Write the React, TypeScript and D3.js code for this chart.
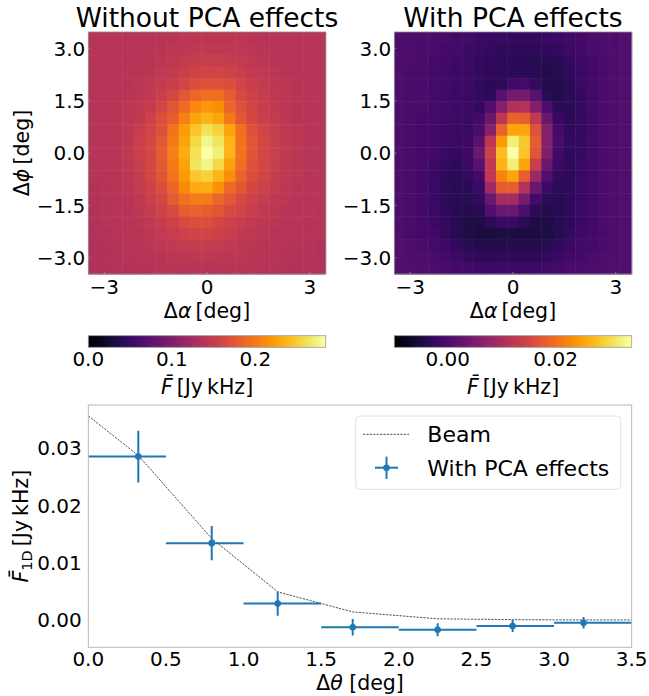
import React from "react";
import * as d3 from "d3";

const W = 649;
const H = 696;
const FONT = "DejaVu Sans, Verdana, sans-serif";

// ---------- heatmap data (colour-scale level, 0 = bottom of colourbar, 1 = top) ----------
const nCells = 21;
const cellDeg = 0.33;
const mapExtent = 3.465;
const leftRange = [0.0, 0.2843];
const rightRange = [-0.0099, 0.0341];

const leftLevels = [
  [.49,.49,.49,.49,.49,.49,.49,.495,.50,.50,.50,.50,.50,.50,.495,.49,.49,.49,.49,.49,.49],
  [.485,.49,.49,.49,.49,.49,.495,.50,.505,.51,.51,.51,.51,.505,.50,.495,.49,.49,.49,.49,.49],
  [.485,.49,.49,.49,.49,.495,.50,.51,.52,.525,.53,.53,.525,.52,.51,.50,.495,.49,.49,.49,.49],
  [.485,.49,.49,.49,.495,.50,.51,.52,.54,.55,.555,.555,.55,.535,.52,.51,.50,.495,.49,.49,.49],
  [.485,.49,.49,.495,.50,.51,.52,.535,.56,.59,.60,.60,.59,.56,.535,.52,.505,.50,.49,.49,.49],
  [.485,.49,.49,.495,.50,.515,.54,.57,.62,.66,.68,.68,.64,.58,.55,.53,.51,.50,.495,.49,.49],
  [.485,.49,.49,.50,.51,.525,.56,.61,.67,.74,.77,.75,.66,.60,.555,.53,.515,.50,.495,.49,.49],
  [.485,.49,.495,.50,.51,.55,.59,.64,.72,.80,.83,.80,.70,.62,.57,.54,.52,.505,.495,.49,.49],
  [.485,.49,.495,.50,.53,.56,.60,.69,.78,.86,.92,.89,.80,.68,.60,.56,.53,.51,.50,.49,.49],
  [.485,.49,.495,.505,.54,.57,.62,.71,.80,.90,.97,.93,.83,.69,.61,.57,.535,.51,.50,.49,.49],
  [.485,.49,.495,.51,.54,.57,.63,.72,.82,.92,1.0,.95,.83,.69,.61,.57,.54,.515,.50,.49,.49],
  [.485,.49,.495,.505,.535,.57,.62,.71,.80,.93,.97,.90,.79,.68,.60,.565,.535,.51,.50,.49,.49],
  [.485,.49,.495,.50,.53,.565,.61,.69,.78,.87,.89,.83,.75,.65,.59,.555,.53,.51,.50,.49,.49],
  [.48,.485,.49,.50,.52,.55,.59,.66,.74,.81,.82,.76,.67,.62,.57,.545,.52,.505,.495,.49,.49],
  [.48,.485,.49,.495,.51,.54,.57,.63,.68,.71,.71,.66,.62,.58,.55,.53,.51,.50,.49,.49,.49],
  [.48,.485,.49,.495,.505,.525,.55,.58,.64,.65,.64,.61,.58,.56,.53,.515,.505,.495,.49,.49,.485],
  [.48,.485,.49,.49,.50,.515,.53,.55,.58,.59,.59,.57,.55,.53,.515,.505,.50,.49,.49,.485,.485],
  [.48,.48,.485,.49,.495,.505,.515,.53,.55,.555,.555,.55,.53,.515,.505,.50,.49,.49,.485,.485,.485],
  [.475,.48,.485,.49,.49,.50,.505,.515,.52,.525,.525,.52,.515,.505,.50,.495,.49,.485,.485,.485,.48],
  [.475,.48,.48,.485,.49,.49,.495,.50,.505,.51,.51,.505,.50,.50,.495,.49,.485,.485,.48,.48,.48],
  [.475,.475,.48,.48,.485,.485,.49,.49,.495,.495,.495,.495,.495,.49,.49,.485,.485,.48,.48,.48,.48],
];

const rightLevels = [
  [.23,.23,.23,.22,.22,.21,.20,.19,.18,.18,.17,.17,.17,.18,.19,.20,.21,.22,.23,.23,.24],
  [.23,.23,.22,.22,.21,.20,.19,.18,.17,.16,.16,.16,.16,.16,.17,.19,.20,.22,.23,.23,.24],
  [.23,.23,.22,.21,.20,.19,.18,.17,.16,.15,.15,.15,.14,.14,.15,.17,.19,.21,.22,.23,.24],
  [.23,.22,.22,.21,.20,.19,.18,.17,.16,.15,.15,.15,.14,.13,.14,.16,.18,.20,.22,.23,.24],
  [.23,.22,.22,.21,.20,.19,.18,.17,.15,.16,.20,.21,.17,.13,.13,.15,.18,.20,.22,.23,.24],
  [.23,.22,.22,.21,.20,.19,.18,.17,.16,.25,.32,.33,.26,.15,.13,.15,.17,.20,.22,.23,.24],
  [.23,.22,.22,.21,.20,.19,.18,.17,.24,.36,.47,.48,.36,.23,.15,.15,.17,.20,.22,.23,.24],
  [.23,.22,.21,.21,.20,.19,.18,.20,.30,.50,.65,.64,.51,.30,.18,.15,.17,.20,.22,.23,.24],
  [.23,.22,.21,.20,.19,.18,.18,.22,.37,.65,.80,.80,.60,.36,.21,.16,.17,.20,.22,.23,.24],
  [.23,.22,.21,.20,.19,.18,.19,.26,.50,.78,.95,.87,.64,.36,.22,.17,.17,.20,.22,.23,.24],
  [.23,.22,.21,.20,.18,.17,.19,.30,.55,.85,1.0,.86,.61,.35,.20,.16,.17,.20,.22,.23,.24],
  [.23,.22,.21,.19,.17,.16,.19,.26,.51,.83,.95,.80,.53,.30,.19,.16,.18,.20,.22,.23,.24],
  [.23,.22,.20,.18,.16,.15,.17,.21,.51,.73,.80,.64,.42,.24,.17,.16,.18,.20,.22,.23,.24],
  [.23,.22,.20,.18,.16,.14,.15,.18,.43,.63,.64,.48,.30,.19,.15,.16,.18,.20,.22,.23,.24],
  [.23,.22,.20,.18,.16,.14,.14,.17,.30,.44,.44,.33,.21,.15,.14,.16,.18,.20,.22,.23,.24],
  [.23,.22,.20,.18,.16,.14,.13,.15,.24,.30,.30,.23,.15,.13,.14,.16,.18,.20,.22,.23,.24],
  [.23,.22,.21,.19,.17,.14,.12,.12,.15,.18,.18,.15,.12,.12,.14,.16,.18,.20,.22,.23,.24],
  [.23,.22,.21,.20,.17,.14,.12,.11,.11,.12,.12,.11,.11,.12,.14,.17,.19,.21,.22,.23,.24],
  [.24,.23,.22,.21,.19,.16,.14,.13,.13,.13,.13,.13,.13,.14,.16,.18,.20,.21,.22,.23,.24],
  [.24,.23,.23,.22,.21,.19,.17,.16,.16,.16,.16,.16,.16,.17,.18,.20,.21,.22,.23,.23,.24],
  [.24,.24,.23,.23,.22,.21,.20,.19,.19,.19,.19,.19,.19,.20,.21,.22,.22,.23,.23,.24,.24],
];

const toValues = (levels: number[][], range: number[]) =>
  levels.map((row) => row.map((t) => range[0] + t * (range[1] - range[0])));
const leftMap = toValues(leftLevels, leftRange);
const rightMap = toValues(rightLevels, rightRange);

const heatXTicks = [-3, 0, 3];
const heatYTicks = [-3.0, -1.5, 0.0, 1.5, 3.0];
const leftCbTicks = [0.0, 0.1, 0.2];
const rightCbTicks = [0.0, 0.02];

// ---------- radial profile ----------
const binLo = [0.0, 0.5, 1.0, 1.5, 2.0, 2.5, 3.0];
const binHi = [0.5, 1.0, 1.5, 2.0, 2.5, 3.0, 3.5];
const binCenter = [0.322, 0.795, 1.22, 1.703, 2.25, 2.733, 3.19];
const fluxPCA = [0.0285, 0.0134, 0.00285, -0.00128, -0.0017, -0.00105, -0.0005];
const fluxErr = [0.0045, 0.003, 0.0021, 0.00145, 0.00114, 0.00105, 0.001];
const beamTheta = [0.0, 0.322, 0.795, 1.22, 1.703, 2.25, 2.733, 3.19, 3.5];
const beamFlux = [0.0356, 0.0287, 0.0142, 0.0049, 0.0014, 0.0002, 0.00005, 0.0, 0.0];
const profXTicks = [0.0, 0.5, 1.0, 1.5, 2.0, 2.5, 3.0, 3.5];
const profYTicks = [0.0, 0.01, 0.02, 0.03];

const BLUE = "#1f77b4";
const TICK_FS = 20;

function Heatmap(props: {
  x0: number; x1: number; y0: number; y1: number;
  data: number[][]; range: number[]; title: string; yLabel: boolean; id: string;
}) {
  const { x0, x1, y0, y1, data, range, title, yLabel } = props;
  const xs = d3.scaleLinear().domain([-mapExtent, mapExtent]).range([x0, x1]);
  const ys = d3.scaleLinear().domain([-mapExtent, mapExtent]).range([y1, y0]);
  const color = d3.scaleSequential(d3.interpolateInferno).domain(range as [number, number]);
  const half = (nCells - 1) / 2;
  const fmtY = d3.format(".1f");
  const fmtX = d3.format("d");
  const cx = (x0 + x1) / 2;
  return (
    <g>
      {data.map((row, i) =>
        row.map((v, j) => {
          const cxDeg = (j - half) * cellDeg;
          const cyDeg = (half - i) * cellDeg;
          const rx = xs(cxDeg - cellDeg / 2);
          const rw = xs(cxDeg + cellDeg / 2) - rx;
          const ry = ys(cyDeg + cellDeg / 2);
          const rh = ys(cyDeg - cellDeg / 2) - ry;
          return (
            <rect key={`${i}-${j}`} x={rx} y={ry} width={rw + 0.5} height={rh + 0.5} fill={color(v)} />
          );
        })
      )}
      <rect x={x0} y={y0} width={x1 - x0} height={y1 - y0} fill="none" stroke="#8c8c8c" strokeWidth={0.8} />
      {heatYTicks.map((t) => (
        <g key={"y" + t}>
          <line x1={x0} x2={x0 + 2} y1={ys(t)} y2={ys(t)} stroke="#999" strokeWidth={0.8} />
          <text x={x0 - 3} y={ys(t) + 7.3} fontSize={TICK_FS} textAnchor="end" fill="#000">{fmtY(t)}</text>
        </g>
      ))}
      {heatXTicks.map((t) => (
        <g key={"x" + t}>
          <line x1={xs(t)} x2={xs(t)} y1={y1} y2={y1 - 2} stroke="#999" strokeWidth={0.8} />
          <text x={xs(t)} y={294} fontSize={TICK_FS} textAnchor="middle" fill="#000">{fmtX(t)}</text>
        </g>
      ))}
      <text x={cx} y={27} fontSize={26.5} textAnchor="middle" fill="#000">{title}</text>
      <text x={cx} y={318} fontSize={20.5} textAnchor="middle" fill="#000">
        Δ<tspan fontStyle="italic">α</tspan>{"\u2009"}[deg]
      </text>
      {yLabel && (
        <text transform={`translate(29,${(y0 + y1) / 2}) rotate(-90)`} fontSize={20.5} textAnchor="middle" fill="#000">
          Δ<tspan fontStyle="italic">ϕ</tspan>{"\u2009"}[deg]
        </text>
      )}
    </g>
  );
}

function Colorbar(props: { x0: number; x1: number; range: number[]; ticks: number[]; fmt: string; id: string }) {
  const { x0, x1, range, ticks, fmt, id } = props;
  const y0 = 335.7;
  const h = 11.6;
  const xs = d3.scaleLinear().domain(range).range([x0, x1]);
  const stops = d3.range(0, 1.0001, 0.05);
  const f = d3.format(fmt);
  return (
    <g>
      <defs>
        <linearGradient id={id} x1="0" x2="1" y1="0" y2="0">
          {stops.map((s) => (
            <stop key={s} offset={s} stopColor={d3.interpolateInferno(s)} />
          ))}
        </linearGradient>
      </defs>
      <rect x={x0} y={y0} width={x1 - x0} height={h} fill={`url(#${id})`} stroke="#999" strokeWidth={0.8} />
      {ticks.map((t) => (
        <text key={t} x={xs(t)} y={366} fontSize={TICK_FS} textAnchor="middle" fill="#000">{f(t)}</text>
      ))}
      <text x={(x0 + x1) / 2} y={394} fontSize={20.5} textAnchor="middle" fill="#000">
        <tspan fontStyle="italic">{"F\u0304"}</tspan>{"\u2009"}[Jy{"\u2009"}kHz]
      </text>
    </g>
  );
}

function Profile() {
  const x0 = 88.3, x1 = 631.7, y0 = 405, y1 = 647.3;
  const xs = d3.scaleLinear().domain([0, 3.5]).range([x0, x1]);
  const ys = d3.scaleLinear().domain([-0.00477, 0.0375]).range([y1, y0]);
  const fx = d3.format(".1f");
  const fy = d3.format(".2f");
  const beamLine = d3
    .line<number>()
    .x((_, i) => xs(beamTheta[i]))
    .y((d) => ys(d));
  return (
    <g>
      <defs>
        <clipPath id="profclip">
          <rect x={x0} y={y0} width={x1 - x0} height={y1 - y0} />
        </clipPath>
      </defs>
      <g clipPath="url(#profclip)">
        <path d={beamLine(beamFlux) || ""} fill="none" stroke="#222" strokeWidth={0.8} strokeDasharray="2.2,1.2" />
        {binCenter.map((c, i) => (
          <g key={i}>
            <line x1={xs(binLo[i])} x2={xs(binHi[i])} y1={ys(fluxPCA[i])} y2={ys(fluxPCA[i])} stroke={BLUE} strokeWidth={2} />
            <line x1={xs(c)} x2={xs(c)} y1={ys(fluxPCA[i] - fluxErr[i])} y2={ys(fluxPCA[i] + fluxErr[i])} stroke={BLUE} strokeWidth={2} />
            <circle cx={xs(c)} cy={ys(fluxPCA[i])} r={3.3} fill={BLUE} />
          </g>
        ))}
      </g>
      <rect x={x0} y={y0} width={x1 - x0} height={y1 - y0} fill="none" stroke="#b0b0b0" strokeWidth={0.9} />
      {profXTicks.map((t) => (
        <text key={t} x={xs(t)} y={666} fontSize={TICK_FS} textAnchor="middle" fill="#000">{fx(t)}</text>
      ))}
      {profYTicks.map((t) => (
        <text key={t} x={81.7} y={ys(t) + 7.3} fontSize={TICK_FS} textAnchor="end" fill="#000">{fy(t)}</text>
      ))}
      <text x={(x0 + x1) / 2} y={689.5} fontSize={20.5} textAnchor="middle" fill="#000">
        Δ<tspan fontStyle="italic">θ</tspan> [deg]
      </text>
      <text transform={`translate(28,${(y0 + y1) / 2}) rotate(-90)`} fontSize={20.5} textAnchor="middle" fill="#000">
        <tspan fontStyle="italic">{"F\u0304"}</tspan>
        <tspan fontSize={14.5} dy={4}>1D</tspan>
        <tspan dy={-4}>{"\u2009"}[Jy{"\u2009"}kHz]</tspan>
      </text>
      {/* legend */}
      <rect x={355.7} y={416} width={265} height={73.3} rx={4} fill="#fff" fillOpacity={0.8} stroke="#dcdcdc" strokeWidth={0.9} />
      <line x1={363} x2={409} y1={434.3} y2={434.3} stroke="#222" strokeWidth={0.8} strokeDasharray="2.2,1.2" />
      <text x={427.3} y={442.3} fontSize={22} fill="#000">Beam</text>
      <line x1={375} x2={398} y1={467.7} y2={467.7} stroke={BLUE} strokeWidth={2} />
      <line x1={386.5} x2={386.5} y1={456.7} y2={479} stroke={BLUE} strokeWidth={2} />
      <circle cx={386.5} cy={467.7} r={3.3} fill={BLUE} />
      <text x={427.3} y={475.7} fontSize={22} fill="#000">With PCA effects</text>
    </g>
  );
}

export default function App() {
  return (
    <svg
      width={W}
      height={H}
      viewBox={`0 0 ${W} ${H}`}
      style={{ position: "absolute", left: 0, top: 0, background: "#fff" }}
      fontFamily={FONT}
    >
      <rect x={0} y={0} width={W} height={H} fill="#fff" />
      <Heatmap x0={88.3} x1={325.7} y0={32} y1={274} data={leftMap} range={leftRange} title="Without PCA effects" yLabel={true} id="l" />
      <Heatmap x0={394.3} x1={631.7} y0={32} y1={274} data={rightMap} range={rightRange} title="With PCA effects" yLabel={false} id="r" />
      <Colorbar x0={88.3} x1={325.7} range={leftRange} ticks={leftCbTicks} fmt=".1f" id="cbl" />
      <Colorbar x0={394.3} x1={631.7} range={rightRange} ticks={rightCbTicks} fmt=".2f" id="cbr" />
      <Profile />
    </svg>
  );
}
